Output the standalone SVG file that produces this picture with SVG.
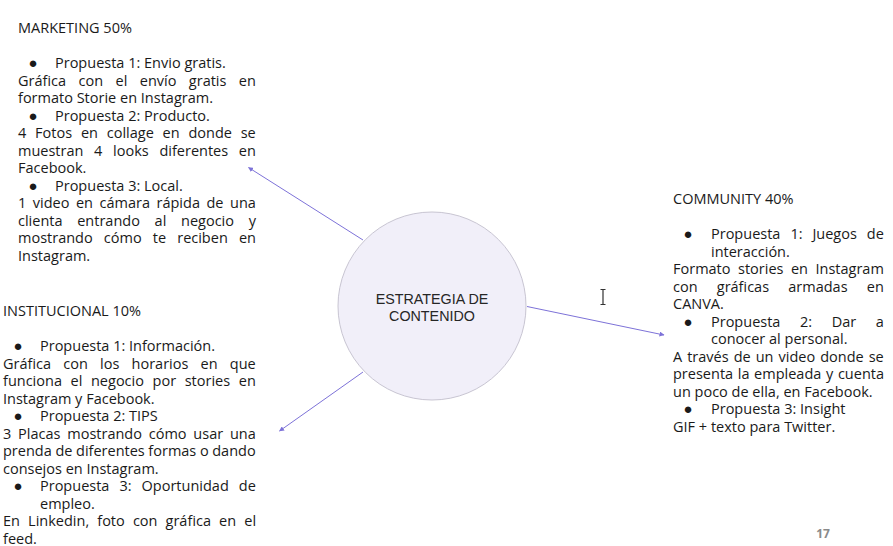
<svg xmlns="http://www.w3.org/2000/svg" width="893" height="546" viewBox="0 0 893 546">
<style>
.t{font-family:"Open Sans","Liberation Sans",sans-serif;font-size:14.5px;fill:#1a1a1a;}
.b{font-family:"Liberation Sans","DejaVu Sans",sans-serif;font-size:15px;fill:#1a1a1a;text-anchor:middle;}
.c{font-family:"Liberation Sans",Arial,sans-serif;font-size:14.3px;fill:#262626;text-anchor:middle;}
.pg{font-family:"Open Sans","Liberation Sans",sans-serif;font-size:12px;font-weight:bold;fill:#8a8a8a;text-anchor:middle;}
.ln{stroke:#7d72d8;stroke-width:1;fill:none;marker-end:url(#ah);}
</style>
<defs>
<marker id="ah" viewBox="0 0 10 10" refX="9" refY="5" markerWidth="5" markerHeight="5" markerUnits="userSpaceOnUse" orient="auto">
<path d="M0,0 L10,5 L0,10 z" fill="#7d72d8"/>
</marker>
</defs>
<rect width="893" height="546" fill="#ffffff"/>

<g id="connectors">
<line class="ln" x1="363" y1="240" x2="248.5" y2="167.5"/>
<line class="ln" x1="363" y1="372" x2="279.5" y2="431"/>
<line class="ln" x1="527" y1="306.5" x2="664" y2="335"/>
</g>

<g id="center">
<circle cx="432" cy="306" r="94" fill="#f1eff9" stroke="#c8c5d2" stroke-width="1"/>
<text class="c" x="432" y="304">ESTRATEGIA DE</text>
<text class="c" x="432" y="320.5">CONTENIDO</text>
</g>

<g id="marketing">
<text class="t" x="18" y="33">MARKETING 50%</text>
<text class="b" x="33" y="68">●</text>
<text class="t" x="55" y="68">Propuesta 1: Envio gratis.</text>
<text class="t" x="18" y="85.5" word-spacing="8.67">Gráfica con el envío gratis en</text>
<text class="t" x="18" y="103">formato Storie en Instagram.</text>
<text class="b" x="33" y="120.5">●</text>
<text class="t" x="55" y="120.5">Propuesta 2: Producto.</text>
<text class="t" x="18" y="138" word-spacing="5.03">4 Fotos en collage en donde se</text>
<text class="t" x="18" y="155.5" word-spacing="6.93">muestran 4 looks diferentes en</text>
<text class="t" x="18" y="173">Facebook.</text>
<text class="b" x="33" y="190.5">●</text>
<text class="t" x="55" y="190.5">Propuesta 3: Local.</text>
<text class="t" x="18" y="208" word-spacing="2.75">1 video en cámara rápida de una</text>
<text class="t" x="18" y="225.5" word-spacing="10.93">clienta entrando al negocio y</text>
<text class="t" x="18" y="243" word-spacing="7.36">mostrando cómo te reciben en</text>
<text class="t" x="18" y="260.5">Instagram.</text>
</g>

<g id="institucional">
<text class="t" x="3" y="316">INSTITUCIONAL 10%</text>
<text class="b" x="18" y="351">●</text>
<text class="t" x="40" y="351">Propuesta 1: Información.</text>
<text class="t" x="3" y="368.5" word-spacing="8.45">Gráfica con los horarios en que</text>
<text class="t" x="3" y="386" word-spacing="4.85">funciona el negocio por stories en</text>
<text class="t" x="3" y="403.5">Instagram y Facebook.</text>
<text class="b" x="18" y="421">●</text>
<text class="t" x="40" y="421">Propuesta 2: TIPS</text>
<text class="t" x="3" y="438.5" word-spacing="3.03">3 Placas mostrando cómo usar una</text>
<text class="t" x="3" y="456" word-spacing="-0.15">prenda de diferentes formas o dando</text>
<text class="t" x="3" y="473.5">consejos en Instagram.</text>
<text class="b" x="18" y="491">●</text>
<text class="t" x="40" y="491" word-spacing="6.26">Propuesta 3: Oportunidad de</text>
<text class="t" x="40" y="508.5">empleo.</text>
<text class="t" x="3" y="526" word-spacing="4.36">En Linkedin, foto con gráfica en el</text>
<text class="t" x="3" y="543.5">feed.</text>
</g>

<g id="community">
<text class="t" x="673" y="204">COMMUNITY 40%</text>
<text class="b" x="688" y="239">●</text>
<text class="t" x="711" y="239" word-spacing="6.2">Propuesta 1: Juegos de</text>
<text class="t" x="711" y="256.5">interacción.</text>
<text class="t" x="673" y="274" word-spacing="3.73">Formato stories en Instagram</text>
<text class="t" x="673" y="291.5" word-spacing="15.43">con gráficas armadas en</text>
<text class="t" x="673" y="309">CANVA.</text>
<text class="b" x="688" y="326.5">●</text>
<text class="t" x="711" y="326.5" word-spacing="15.83">Propuesta 2: Dar a</text>
<text class="t" x="711" y="344">conocer al personal.</text>
<text class="t" x="673" y="361.5" word-spacing="1.26">A través de un video donde se</text>
<text class="t" x="673" y="379" word-spacing="0.88">presenta la empleada y cuenta</text>
<text class="t" x="673" y="396.5">un poco de ella, en Facebook.</text>
<text class="b" x="688" y="414">●</text>
<text class="t" x="711" y="414">Propuesta 3: Insight</text>
<text class="t" x="673" y="431.5">GIF + texto para Twitter.</text>
</g>

<g id="cursor">
<path d="M600.5,289.5 h5 M603,289.5 v15 M600.5,304.5 h5" stroke="#333" stroke-width="1.2" fill="none"/>
</g>

<text class="pg" x="823" y="538">17</text>
</svg>
